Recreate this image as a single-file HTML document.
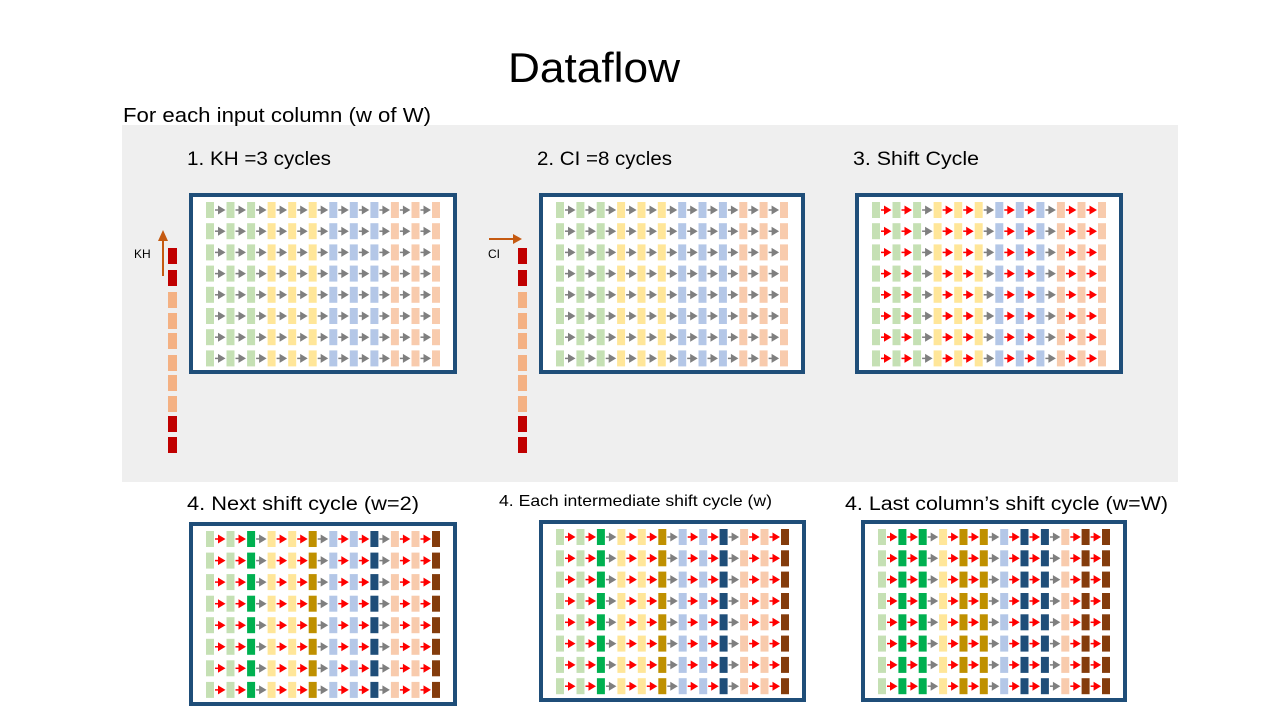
<!DOCTYPE html>
<html><head><meta charset="utf-8"><style>
body{margin:0;width:1280px;height:720px;overflow:hidden;background:#fff}
svg{display:block}
text{font-family:"Liberation Sans",sans-serif;fill:#000}
</style></head><body>
<svg id="s" width="1280" height="720" viewBox="0 0 1280 720">
<rect x="122" y="125" width="1056" height="357" fill="#efefef"/>
<text x="508" y="82" font-size="42" textLength="172" lengthAdjust="spacingAndGlyphs">Dataflow</text>
<text x="123" y="122" font-size="20" textLength="308" lengthAdjust="spacingAndGlyphs">For each input column (w of W)</text>
<text x="187" y="165" font-size="19" textLength="144" lengthAdjust="spacingAndGlyphs">1. KH =3 cycles</text>
<text x="537" y="165" font-size="19" textLength="135" lengthAdjust="spacingAndGlyphs">2. CI =8 cycles</text>
<text x="853" y="165" font-size="19" textLength="126" lengthAdjust="spacingAndGlyphs">3. Shift Cycle</text>
<text x="187" y="510" font-size="19" textLength="232" lengthAdjust="spacingAndGlyphs">4. Next shift cycle (w=2)</text>
<text x="499" y="506" font-size="16" textLength="273" lengthAdjust="spacingAndGlyphs">4. Each intermediate shift cycle (w)</text>
<text x="845" y="510" font-size="19" textLength="323" lengthAdjust="spacingAndGlyphs">4. Last column’s shift cycle (w=W)</text>
<text x="134" y="258" font-size="12">KH</text>
<text x="488" y="258" font-size="12">CI</text>
<line x1="163" y1="276" x2="163" y2="240" stroke="#c55a11" stroke-width="2"/>
<polygon points="158,241 168,241 163,230" fill="#c55a11"/>
<line x1="489" y1="239" x2="514" y2="239" stroke="#c55a11" stroke-width="2"/>
<polygon points="513,234 513,244 522,239" fill="#c55a11"/>
<g id="g"></g>
</svg>
<script>
var g=document.getElementById('g'),h='';
function R(x,y,w,hh,c){h+='<rect x="'+x+'" y="'+y+'" width="'+w+'" height="'+hh+'" fill="'+c+'"/>';}
var bys=[248,270,292,313,333,355,375,396,416,437];
bys.forEach(function(y,i){var c=(i<2||i>7)?'#c00000':'#f4b183';R(168,y,9,16,c);R(518,y,9,16,c);});
var L=['#c5e0b4','#ffe699','#b4c7e7','#f8cbad'],D=['#00b050','#bf9000','#1f4e79','#843c0c'];
function box(bx,by,bw,bhh,mode,red){
  h+='<rect x="'+(bx+2)+'" y="'+(by+2)+'" width="'+(bw-4)+'" height="'+(bhh-4)+'" fill="#fff" stroke="#1f4e79" stroke-width="4"/>';
  var sp=(bw-34-8)/11, rs=(bhh-34)/7.3;
  for(var r=0;r<8;r++){
    var y=by+9+r*21.2*(bhh/181);
    for(var c=0;c<12;c++){
      var x=bx+17+c*sp,grp=Math.floor(c/3),k=c%3,col=L[grp];
      if(mode==1&&k==2)col=D[grp];
      if(mode==2&&k>0)col=D[grp];
      R(x.toFixed(1),y.toFixed(1),8,16,col);
      if(c<11){
        var ax=x+9,ay=y+8,ac=(red&&k<2)?'#ff0000':'#7f7f7f';
        h+='<line x1="'+ax.toFixed(1)+'" y1="'+ay.toFixed(1)+'" x2="'+(ax+4).toFixed(1)+'" y2="'+ay.toFixed(1)+'" stroke="'+ac+'" stroke-width="1.5"/>';
        h+='<polygon points="'+(ax+3).toFixed(1)+','+(ay-4.5).toFixed(1)+' '+(ax+3).toFixed(1)+','+(ay+4.5).toFixed(1)+' '+(ax+10.5).toFixed(1)+','+ay.toFixed(1)+'" fill="'+ac+'"/>';
      }
    }
  }
}
box(189,193,268,181,0,false);
box(539,193,266,181,0,false);
box(855,193,268,181,0,true);
box(189,522,268,184,1,true);
box(539,520,267,182,1,true);
box(861,520,266,182,2,true);
g.innerHTML=h;
</script>
</body></html>
